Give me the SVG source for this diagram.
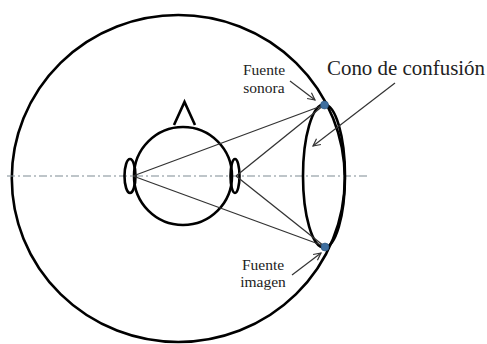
<svg xmlns="http://www.w3.org/2000/svg" width="487" height="344" viewBox="0 0 487 344">
  <defs>
    <marker id="openHead" viewBox="0 0 10 10" refX="9" refY="5" markerWidth="9" markerHeight="9" markerUnits="userSpaceOnUse" orient="auto">
      <path d="M1,1 L9,5 L1,9" fill="none" stroke="#333" stroke-width="1.3"/>
    </marker>
  </defs>
  <style>
    .thick { fill: none; stroke: #000; stroke-width: 2.6; }
    .ray { fill: none; stroke: #333; stroke-width: 1.3; }
    .axis { fill: none; stroke: #7f8c94; stroke-width: 1.2; stroke-dasharray: 8 3 2 3; }
    .pointer { fill: none; stroke: #333; stroke-width: 1.2; marker-end: url(#openHead); }
    .lbl { font-family: "Liberation Serif", serif; fill: #222; }
    .src { fill: #3f6f9f; stroke: #2c5580; stroke-width: 0.6; }
  </style>
  <rect width="487" height="344" fill="#fff"/>

  <!-- sphere of possible source positions -->
  <g id="sphere">
    <ellipse class="thick" cx="178.3" cy="178.5" rx="166.5" ry="163.5"/>
  </g>

  <!-- interaural axis -->
  <g id="axis">
    <line class="axis" x1="7" y1="176" x2="367" y2="176"/>
  </g>

  <!-- listener's head seen from above -->
  <g id="head">
    <circle class="thick" cx="183" cy="176" r="49"/>
    <path class="thick" d="M174,125 L184.5,102 L195,125" stroke-linejoin="miter"/>
    <ellipse class="thick" cx="130" cy="176" rx="5.5" ry="17" fill="#fff"/>
    <ellipse class="thick" cx="235" cy="176" rx="4.5" ry="17" fill="#fff"/>
  </g>

  <!-- cone of confusion -->
  <g id="cone">
    <ellipse class="thick" cx="324" cy="176" rx="21" ry="71.5" stroke-width="2.4"/>
  </g>

  <!-- propagation paths from each ear -->
  <g id="connectors">
    <line class="ray" x1="133" y1="176" x2="324" y2="105"/>
    <line class="ray" x1="133" y1="176" x2="324" y2="246"/>
    <line class="ray" x1="236" y1="176" x2="324" y2="105"/>
    <line class="ray" x1="236" y1="176" x2="324" y2="246"/>
    <line class="pointer" x1="395" y1="83" x2="313" y2="146"/>
    <line class="pointer" x1="290" y1="81" x2="315" y2="100"/>
    <line class="pointer" x1="292" y1="275" x2="321" y2="253"/>
  </g>

  <!-- real source and its image -->
  <g id="fuente-sonora">
    <circle class="src" cx="324.5" cy="105" r="4"/>
    <text class="lbl" x="264" y="75" font-size="15.5" text-anchor="middle">Fuente</text>
    <text class="lbl" x="264" y="93" font-size="15.5" text-anchor="middle">sonora</text>
  </g>
  <g id="fuente-imagen">
    <circle class="src" cx="325" cy="247" r="4"/>
    <text class="lbl" x="263" y="270" font-size="15.5" text-anchor="middle">Fuente</text>
    <text class="lbl" x="263" y="287" font-size="15.5" text-anchor="middle">imagen</text>
  </g>

  <g id="cono-label">
    <text class="lbl" x="327" y="75" font-size="20" textLength="158" lengthAdjust="spacingAndGlyphs">Cono de confusión</text>
  </g>
</svg>
